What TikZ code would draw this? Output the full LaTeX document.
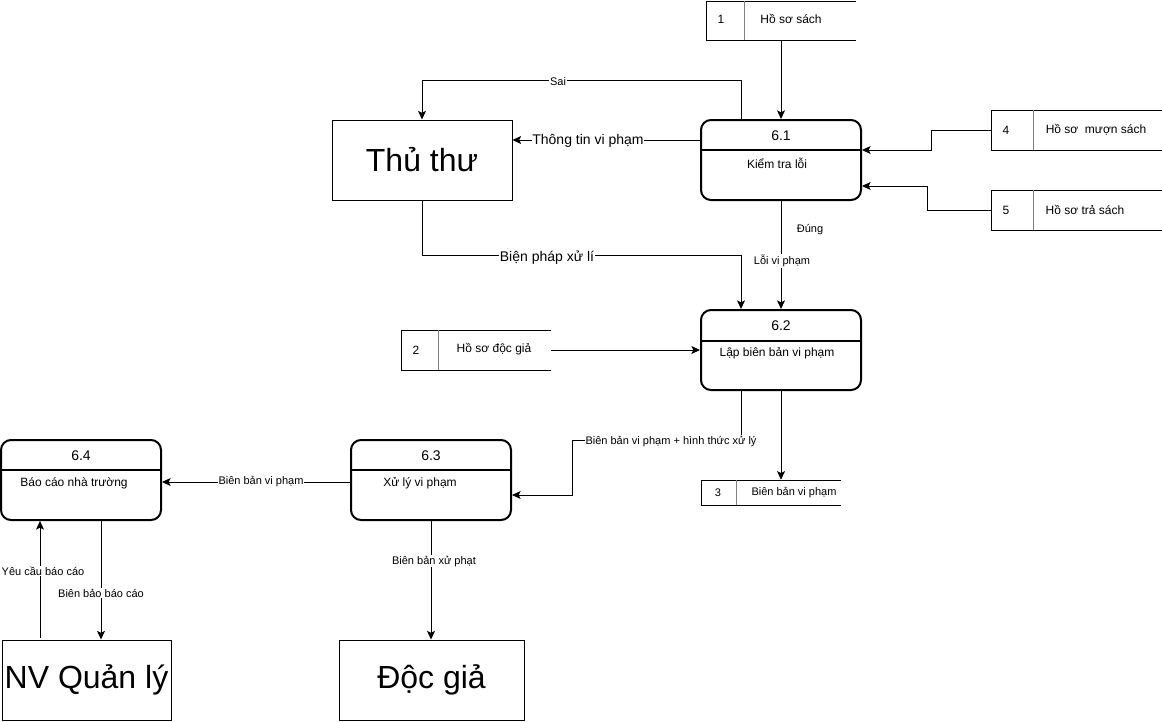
\documentclass[tikz,border=0pt]{standalone}
\usepackage{fontspec}
\setmainfont{Liberation Sans}
\usetikzlibrary{arrows.meta}
\begin{document}
\begin{tikzpicture}[x=0.75pt,y=-0.75pt,
  font=\fontsize{9}{11}\selectfont,
  proc/.style={draw, line width=1.5pt, rounded corners=7.5pt, minimum width=120pt, minimum height=60pt, inner sep=0pt},
  ext/.style={draw, line width=0.75pt, minimum height=60pt, inner sep=0pt, font=\fontsize{24}{28}\selectfont},
  store/.style={minimum height=30pt, inner sep=0pt},
  sline/.style={line width=0.75pt},
  sdiv/.style={line width=0.75pt, draw=gray},
  flow/.style={line width=0.75pt, -{Stealth[length=6.5pt,width=6pt,inset=1.5pt]}},
  lbl/.style={fill=white, inner sep=0.5pt, font=\fontsize{8.25}{10}\selectfont},
  biglbl/.style={fill=white, inner sep=0.5pt, font=\fontsize{10.5}{12}\selectfont},
  txt/.style={inner sep=0pt},
  ttl/.style={inner sep=0pt, font=\fontsize{10.5}{12}\selectfont},
]
\useasboundingbox (0,0) rectangle (1162,721);

% external entities
\node[ext, minimum width=135pt] (tt) at (422,160) {Thủ thư};
\node[ext, minimum width=126.75pt] (nv) at (86.5,680) {NV Quản lý};
\node[ext, minimum width=138.75pt] (dg) at (431.5,680) {Độc giả};

% processes
\node[proc] (p61) at (781,160) {};
\node[proc] (p62) at (781,350) {};
\node[proc] (p63) at (431,480) {};
\node[proc] (p64) at (81,480) {};
\draw[line width=1.5pt] (701,150) -- (861,150);
\draw[line width=1.5pt] (701,341) -- (861,341);
\draw[line width=1.5pt] (351,470) -- (511,470);
\draw[line width=1.5pt] (1,470) -- (161,470);
\node[ttl] (t61a) at (781,136) {6.1};
\node[txt] (t61b) at (777,163) {Kiểm tra lỗi};
\node[ttl] (t62a) at (781,326) {6.2};
\node[txt] (t62b) at (777,353) {Lập biên bản vi phạm};
\node[ttl] (t63a) at (431,456) {6.3};
\node[txt] (t63b) at (420,483) {Xử lý vi phạm};
\node[ttl] (t64a) at (81,456) {6.4};
\node[txt] (t64b) at (74,483) {Báo cáo nhà trường};

% data stores
\node[store, minimum width=112.5pt, minimum height=29.25pt] (s1) at (781,20.5) {};
\draw[sline] (856,1) -- (706,1) -- (706,40) -- (856,40);
\draw[sdiv] (744,1) -- (744,40);
\node[txt] (s1n) at (721,19) {1};
\node[txt] (s1t) at (791,19) {Hồ sơ sách};

\node[store, minimum width=128.25pt] (s4) at (1076.5,130) {};
\draw[sline] (1162,110) -- (991,110) -- (991,150) -- (1162,150);
\draw[sdiv] (1033,110) -- (1033,150);
\node[txt] (s4n) at (1006,130) {4};
\node[txt] (s4t) at (1096,130) {Hồ sơ\ \ mượn sách};

\node[store, minimum width=128.25pt] (s5) at (1076.5,210) {};
\draw[sline] (1162,190) -- (991,190) -- (991,230) -- (1162,230);
\draw[sdiv] (1033,190) -- (1033,230);
\node[txt] (s5n) at (1006,210) {5};
\node[txt] (s5t) at (1085,210) {Hồ sơ trả sách};

\node[store, minimum width=112.5pt] (s2) at (476,350) {};
\draw[sline] (551,330) -- (401,330) -- (401,370) -- (551,370);
\draw[sdiv] (438,330) -- (438,370);
\node[txt] (s2n) at (416,350) {2};
\node[txt] (s2t) at (494,349) {Hồ sơ độc giả};

\node[store, minimum width=105pt, minimum height=18.75pt] (s3) at (771,492.5) {};
\draw[sline] (841,480) -- (701,480) -- (701,505) -- (841,505);
\draw[sdiv] (736,480) -- (736,505);
\node[txt] (s3n) at (718,493) {\fontsize{8.25}{10}\selectfont 3};
\node[txt] (s3t) at (794,493) {\fontsize{8.25}{10}\selectfont Biên bản vi phạm};

% helper coordinates
\coordinate (cSai) at (741,80);
\coordinate (cBp) at (741,255);
\coordinate (cHt) at (572,440);
\coordinate (cYc) at (40,0);
\coordinate (cBb) at (101,0);

% flows
\draw[flow] (s1.south) -- (p61.north);
\draw[flow] (p61.north -| cSai) -- (cSai) -| (tt.north);
\node[lbl] (lSai) at (558,82) {Sai};
\draw[flow] ([yshift=15pt]p61.west) -- ([yshift=15pt]tt.east);
\node[biglbl] (lTt) at (588,141) {Thông tin vi phạm};
\draw[flow] (s4.west) -| (931,140) |- ([yshift=7.5pt]p61.east);
\draw[flow] (s5.west) -| (927,198) |- ([yshift=-19.5pt]p61.east);
\draw[flow] (p61.south) -- (p62.north);
\node[txt, font=\fontsize{8.25}{10}\selectfont] (lDung) at (810,230) {Đúng};
\node[lbl] (lLoi) at (782,261) {Lỗi vi phạm};
\draw[flow] (tt.south) |- (cBp) -- (p62.north -| cBp);
\node[biglbl] (lBp) at (547,258) {Biện pháp xử lí};
\draw[flow] (s2.east) -- (p62.west);
\draw[flow] (p62.south -| cBp) |- (cHt) |- ([yshift=-11.25pt]p63.east);
\node[lbl] (lHt) at (671,441) {Biên bản vi phạm + hình thức xử lý};
\draw[flow] (p62.south) -- (p62.south |- s3.north);
\draw[flow] ([yshift=-1.5pt]p63.west) -- ([yshift=-1.5pt]p64.east);
\node[lbl] (lBb) at (261,482) {Biên bản vi phạm};
\draw[flow] (p63.south) -- (p63.south |- dg.north);
\node[lbl] (lXp) at (434,561) {Biên bản xử phạt};
\draw[flow] ([yshift=1.5pt]nv.north -| cYc) -- (p64.south -| cYc);
\node[lbl] (lYc) at (43,571) {Yêu cầu báo cáo};
\draw[flow] (p64.south -| cBb) -- (nv.north -| cBb);
\node[lbl] (lBbc) at (101,593) {Biên bảo báo cáo};
\end{tikzpicture}
\end{document}
